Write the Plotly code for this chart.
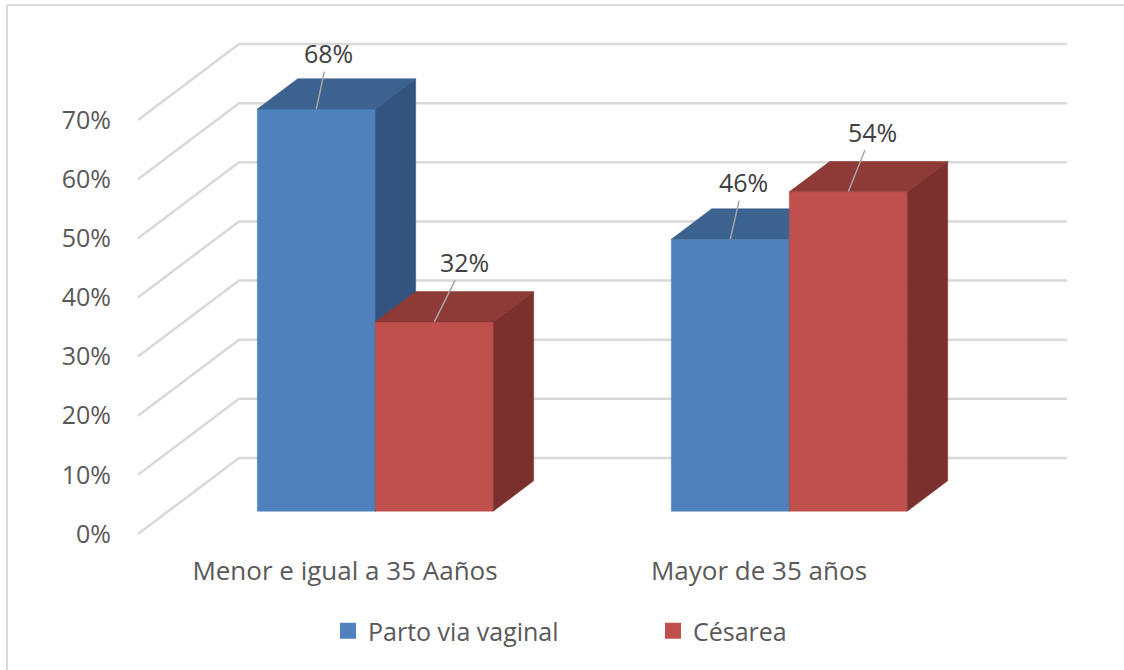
import plotly.graph_objects as go

# ---------------- data ----------------
categories = ["Menor e igual a 35 Aaños", "Mayor de 35 años"]
series_names = ["Parto via vaginal", "Césarea"]
vaginal = [68, 46]
cesarea = [32, 54]
y_ticks = [0, 10, 20, 30, 40, 50, 60, 70]

# ---------------- styles ----------------
front_colors = ["#4F81BD", "#C0504D"]
top_colors = ["#3C6290", "#8E3A37"]
side_colors = ["#33547E", "#7B302E"]
text_color = "#595959"
label_color = "#404040"
grid_color = "#D9D9D9"
FONT = "Open Sans"

# label offsets (px) for the leader-lined data labels, per series / category
label_dx = [[12, 13], [30, 24]]
label_dy = [[-56, -57], [-60, -60]]

# ---------------- 3D geometry (oblique projection) ----------------
W, H = 1124, 670
ML, MR, MT, MB = 120, 44, 30, 125
PW, PH = W - ML - MR, H - MT - MB
PX_PER_CAT = 414.0
PX_PER_PCT = 5.914
DX = 101 / PX_PER_CAT       # full depth offset in category units
DY = 76 / PX_PER_PCT        # full depth offset in percent units
F0, F1 = 0.30, 0.70         # bar front/back depth fractions
BW = 0.285                  # bar width in category units
X_FRONT_LEFT_PX = 138
ZERO_PX = 534

x_range = [-0.5 - (X_FRONT_LEFT_PX - ML) / PX_PER_CAT,
           -0.5 + (W - MR - X_FRONT_LEFT_PX) / PX_PER_CAT]
y_range = [-((H - MB) - ZERO_PX) / PX_PER_PCT, (ZERO_PX - MT) / PX_PER_PCT]

fig = go.Figure()

# gridlines: side wall diagonal + back wall horizontal
gx, gy = [], []
n = len(categories)
for v in y_ticks:
    gx += [-0.5, -0.5 + DX, n - 0.5 + DX, None]
    gy += [v, v + DY, v + DY, None]
fig.add_trace(go.Scatter(x=gx, y=gy, mode="lines",
                         line=dict(color=grid_color, width=2.5),
                         hoverinfo="skip", showlegend=False))

all_series = [vaginal, cesarea]
annotations = []
for c in range(n):
    for s, vals in enumerate(all_series):
        v = vals[c]
        x0 = c - BW + s * BW
        x1 = x0 + BW
        fx0, fx1 = x0 + F0 * DX, x1 + F0 * DX
        bx0, bx1 = x0 + F1 * DX, x1 + F1 * DX
        fyb, fyt = F0 * DY, v + F0 * DY
        byb, byt = F1 * DY, v + F1 * DY
        # front face
        fig.add_trace(go.Scatter(
            x=[fx0, fx1, fx1, fx0, fx0], y=[fyb, fyb, fyt, fyt, fyb],
            mode="lines", fill="toself", fillcolor=front_colors[s],
            line=dict(color=front_colors[s], width=0.5),
            hoverinfo="skip", showlegend=False))
        # top face
        fig.add_trace(go.Scatter(
            x=[fx0, bx0, bx1, fx1, fx0], y=[fyt, byt, byt, fyt, fyt],
            mode="lines", fill="toself", fillcolor=top_colors[s],
            line=dict(color=top_colors[s], width=0.5),
            hoverinfo="skip", showlegend=False))
        # side face
        fig.add_trace(go.Scatter(
            x=[fx1, bx1, bx1, fx1, fx1], y=[fyb, byb, byt, fyt, fyb],
            mode="lines", fill="toself", fillcolor=side_colors[s],
            line=dict(color=side_colors[s], width=0.5),
            hoverinfo="skip", showlegend=False))
        annotations.append(dict(
            x=(fx0 + fx1) / 2, y=fyt, xref="x", yref="y",
            text=f"{v}%", showarrow=True, arrowhead=0, arrowwidth=1.5,
            arrowcolor="#A6A6A6", ax=label_dx[s][c], ay=label_dy[s][c],
            standoff=0, font=dict(family=FONT, size=25, color=label_color)))

# legend entries
for s, name in enumerate(series_names):
    fig.add_trace(go.Scatter(
        x=[None], y=[None], mode="markers", name=name,
        marker=dict(symbol="square", size=16, color=front_colors[s]),
        hoverinfo="skip"))

# chart-area frame: only its top and left edges fall inside the picture
bx_left = -(ML - 7) / PW
by_top = 1 + (MT - 5) / PH
frame = [
    dict(type="line", xref="paper", yref="paper", x0=bx_left, x1=(W - ML) / PW,
         y0=by_top, y1=by_top, line=dict(color="#D9D9D9", width=2), layer="below"),
    dict(type="line", xref="paper", yref="paper", x0=bx_left, x1=bx_left,
         y0=by_top, y1=-MB / PH, line=dict(color="#D9D9D9", width=2), layer="below"),
]

fig.update_layout(
    width=W, height=H,
    margin=dict(l=ML, r=MR, t=MT, b=MB),
    paper_bgcolor="white", plot_bgcolor="white",
    font=dict(family=FONT, size=25, color=text_color),
    xaxis=dict(range=x_range, tickmode="array", tickvals=list(range(n)),
               ticktext=categories, showgrid=False, zeroline=False,
               showline=False, ticks="", ticklabelstandoff=8,
               tickfont=dict(size=26, color=text_color)),
    yaxis=dict(range=y_range, tickmode="array", tickvals=y_ticks,
               ticktext=[f"{t}%" for t in y_ticks], showgrid=False,
               zeroline=False, showline=False, ticks="",
               ticklabelstandoff=8,
               tickfont=dict(size=25, color=text_color)),
    showlegend=True,
    legend=dict(orientation="h", x=(328 - ML) / PW,
                y=-(631 - (H - MB)) / PH,
                xanchor="left", yanchor="middle", entrywidth=280,
                font=dict(size=25, color=text_color)),
    annotations=annotations,
    shapes=frame,
)

fig.write_html(
    "out.html",
    config={"displayModeBar": False},
    post_script="document.body.style.margin='0';document.body.style.overflow='hidden';",
)
